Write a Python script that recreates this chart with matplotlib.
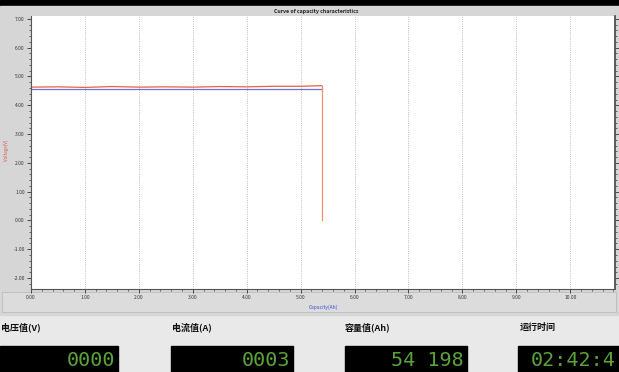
import matplotlib
matplotlib.use('Agg')
import matplotlib.pyplot as plt
from matplotlib.patches import Rectangle
from matplotlib.ticker import MultipleLocator, AutoMinorLocator

# ── Data ─────────────────────────────────────────────────────
capacity = [0.00, 0.50, 1.00, 1.50, 2.00, 2.50, 3.00, 3.50, 4.00, 4.50, 5.00, 5.39, 5.39]
voltage_red = [4.63, 4.64, 4.62, 4.65, 4.63, 4.64, 4.63, 4.65, 4.64, 4.66, 4.66, 4.68, 0.00]
capacity_blue = [0.00, 5.39]
voltage_blue = [4.55, 4.55]

panel_labels = ['电压值(V)', '电流值(A)', '容量值(Ah)', '运行时间']
panel_values = ['0000', '0003', '54 198', '02:42:4']

W, H = 619, 372

def fx(px):
    return px / W

def fy(py):
    return 1 - py / H

plt.rcParams['font.family'] = ['Noto Sans CJK SC', 'DejaVu Sans']

fig = plt.figure(figsize=(6.19, 3.72), dpi=100)
fig.patch.set_facecolor('#e9e9e9')

# background blocks: black strip on top, grey chart panel
fig.add_artist(Rectangle((0, fy(6)), 1, 6 / H, transform=fig.transFigure, color='black', zorder=0))
fig.add_artist(Rectangle((0, fy(315)), 1, (315 - 6) / H, transform=fig.transFigure,
                         color='#d6d6d6', zorder=0))
fig.add_artist(Rectangle((fx(2), fy(312)), fx(614), (312 - 292) / H, transform=fig.transFigure,
                         facecolor='#dcdcdc', edgecolor='#bdbdbd', lw=0.6, zorder=0))

ax = fig.add_axes([fx(31), fy(289), fx(615 - 31), (289 - 16) / H])
ax.set_facecolor('white')

ax.plot(capacity_blue, voltage_blue, color='#6f6fd8', lw=0.9)
ax.plot(capacity[:-1], voltage_red[:-1], color='#e8643c', lw=0.9)
# the drop at the end of discharge looks lighter on screen
ax.plot(capacity[-2:], voltage_red[-2:], color='#f2906c', lw=0.9)

ax.set_xlim(0, 10.83)
ax.set_ylim(-2.38, 7.10)
ax.xaxis.set_major_locator(MultipleLocator(1))
ax.yaxis.set_major_locator(MultipleLocator(1))
ax.xaxis.set_minor_locator(AutoMinorLocator(5))
ax.yaxis.set_minor_locator(AutoMinorLocator(5))
ax.xaxis.set_major_formatter(lambda v, p: f'{v:.2f}')
ax.yaxis.set_major_formatter(lambda v, p: f'{v:.2f}')
ax.tick_params(which='major', length=3, width=0.6, labelsize=3.5, pad=1.5, colors='#333333')
ax.tick_params(which='minor', length=1.5, width=0.5, colors='#333333')
ax.tick_params(axis='y', which='both', right=True)
ax.grid(axis='x', which='major', color='#a8a8a8', linestyle=':', lw=0.6)

ax.spines['top'].set_visible(False)
ax.spines['right'].set_color('#444444')
ax.spines['right'].set_linewidth(1.2)
ax.spines['left'].set_color('#555555')
ax.spines['bottom'].set_color('#555555')

ax.set_xlabel('Capacity(Ah)', fontsize=3.5, color='#3a4ad0', labelpad=3)
fig.text(fx(6), fy(150), 'Voltage(V)', fontsize=3.2, color='#e05050', rotation=90,
         ha='center', va='center')
fig.text(fx(316), fy(12), 'Curve of capacity characteristics', fontsize=3.8,
         fontweight='bold', ha='center', va='center', color='#222222')

# digital read-outs under the chart
label_x = [1, 172, 345, 520]
box_x = [(0, 118), (171, 293), (345, 467), (518, 619)]
for lab, val, lx, (x0, x1) in zip(panel_labels, panel_values, label_x, box_x):
    fig.text(fx(lx), fy(327), lab, fontsize=6.5, fontweight='bold', ha='left', va='center',
             color='#111111')
    fig.add_artist(Rectangle((fx(x0), 0), fx(x1 - x0), (372 - 346) / H,
                             transform=fig.transFigure, color='black', zorder=1))
    fig.text(fx(x1 - 3), fy(360), val, fontsize=14.5, family='DejaVu Sans Mono',
             color='#5aa23a', ha='right', va='center', zorder=2)

fig.savefig('out.png', dpi=100)
